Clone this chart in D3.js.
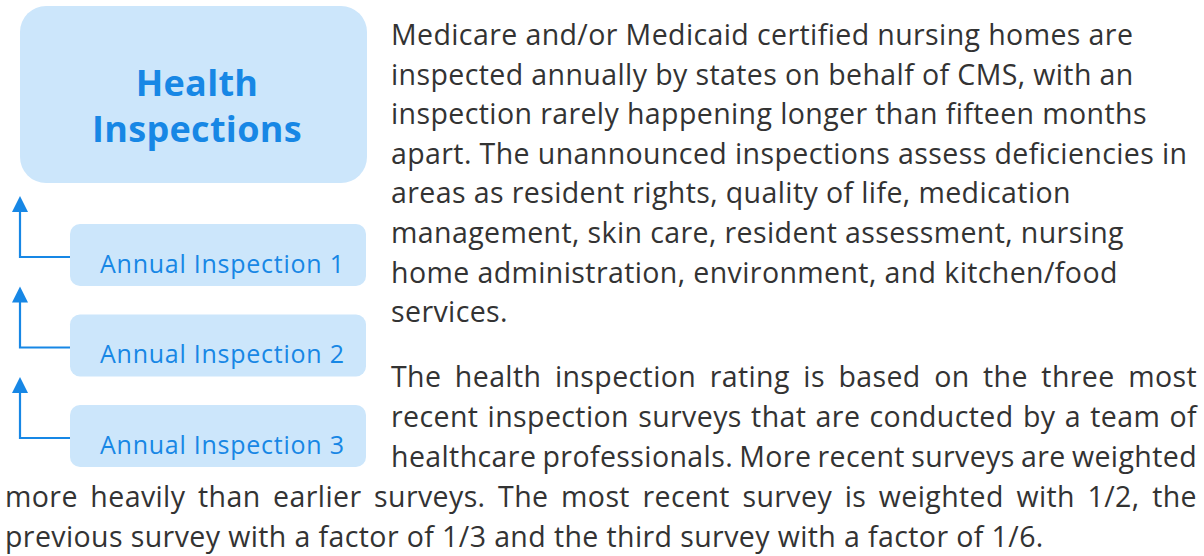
<!DOCTYPE html>
<html>
<head>
<meta charset="utf-8">
<script src="https://cdn.jsdelivr.net/npm/d3@7"></script>
<style>
  html, body { margin: 0; padding: 0; background: #ffffff; }
  svg { display: block; }
</style>
</head>
<body>
<svg id="chart" width="1204" height="556"></svg>
<script>
// ---- content (top-level arrays) ----
const titleLines = ["Health", "Inspections"];
const inspections = ["Annual Inspection 1", "Annual Inspection 2", "Annual Inspection 3"];
const para1Lines = [
  "Medicare and/or Medicaid certified nursing homes are",
  "inspected annually by states on behalf of CMS, with an",
  "inspection rarely happening longer than fifteen months",
  "apart. The unannounced inspections assess deficiencies in",
  "areas as resident rights, quality of life, medication",
  "management, skin care, resident assessment, nursing",
  "home administration, environment, and kitchen/food",
  "services."
];
const para2Lines = [
  "The health inspection rating is based on the three most",
  "recent inspection surveys that are conducted by a team of",
  "healthcare professionals. More recent surveys are weighted",
  "more heavily than earlier surveys. The most recent survey is weighted with 1/2, the",
  "previous survey with a factor of 1/3 and the third survey with a factor of 1/6."
];
const para2Indented = [true, true, true, false, false];
const para2Justified = [true, true, true, true, false];

// ---- styles ----
const BLUE = "#1787e5";
const FILL = "#cce6fb";
const TEXT = "#333333";
const FONT = "'Open Sans', 'Noto Sans', sans-serif";

const svg = d3.select("#chart");

// ---- title box ----
svg.append("rect")
  .attr("x", 20).attr("y", 6)
  .attr("width", 347).attr("height", 177)
  .attr("rx", 26).attr("ry", 26)
  .attr("fill", FILL);

svg.append("g").selectAll("text").data(titleLines).join("text")
  .attr("x", 197)
  .attr("y", (d, i) => 96 + i * 46)
  .attr("text-anchor", "middle")
  .attr("font-family", FONT)
  .attr("font-weight", 700)
  .attr("font-size", 36)
  .attr("letter-spacing", 0.3)
  .attr("fill", BLUE)
  .text(d => d);

// ---- inspection boxes via point scale ----
const yPos = d3.scalePoint()
  .domain(inspections)
  .range([224, 405]);

const g = svg.append("g").selectAll("g").data(inspections).join("g");

g.append("rect")
  .attr("x", 70)
  .attr("y", d => yPos(d))
  .attr("width", 296)
  .attr("height", 62)
  .attr("rx", 10).attr("ry", 10)
  .attr("fill", FILL);

g.append("text")
  .attr("x", 100)
  .attr("y", d => yPos(d) + 48.5)
  .attr("font-family", FONT)
  .attr("font-size", 25)
  .attr("letter-spacing", 0.75)
  .attr("fill", BLUE)
  .text(d => d);

g.append("path")
  .attr("d", d => {
    const yh = yPos(d) + 33;
    const top = yPos(d) - 13;
    return `M70,${yh} L20,${yh} L20,${top}`;
  })
  .attr("fill", "none")
  .attr("stroke", BLUE)
  .attr("stroke-width", 2.2);

g.append("path")
  .attr("d", d => {
    const tip = yPos(d) - 28;
    return `M20,${tip} L28,${tip + 16} L12,${tip + 16} Z`;
  })
  .attr("fill", BLUE);

// ---- paragraphs ----
const FS = 28.5;
const LS = 0.4;
const LH = 39.6;

svg.append("g").selectAll("text").data(para1Lines).join("text")
  .attr("x", 391)
  .attr("y", (d, i) => 45 + i * LH)
  .attr("font-family", FONT)
  .attr("font-size", FS)
  .attr("letter-spacing", LS)
  .attr("fill", TEXT)
  .text(d => d);

// measuring helper
const meas = svg.append("text")
  .attr("font-family", FONT).attr("font-size", FS)
  .attr("letter-spacing", LS)
  .attr("visibility", "hidden");
function w(s) { meas.text(s); return meas.node().getComputedTextLength(); }

const RIGHT = 1197;
const p2 = svg.append("g");
para2Lines.forEach((line, i) => {
  const x0 = para2Indented[i] ? 391 : 5;
  const y = 387 + i * 40;
  const t = p2.append("text")
    .attr("y", y)
    .attr("font-family", FONT)
    .attr("font-size", FS)
    .attr("letter-spacing", LS)
    .attr("fill", TEXT);
  if (!para2Justified[i]) {
    t.attr("x", x0).text(line);
    return;
  }
  const words = line.split(" ");
  const widths = words.map(w);
  const total = d3.sum(widths);
  const gap = (RIGHT - x0 - total) / (words.length - 1);
  let x = x0;
  words.forEach((wd, j) => {
    t.append("tspan").attr("x", x).text(wd);
    x += widths[j] + gap;
  });
});
meas.remove();
</script>
</body>
</html>
